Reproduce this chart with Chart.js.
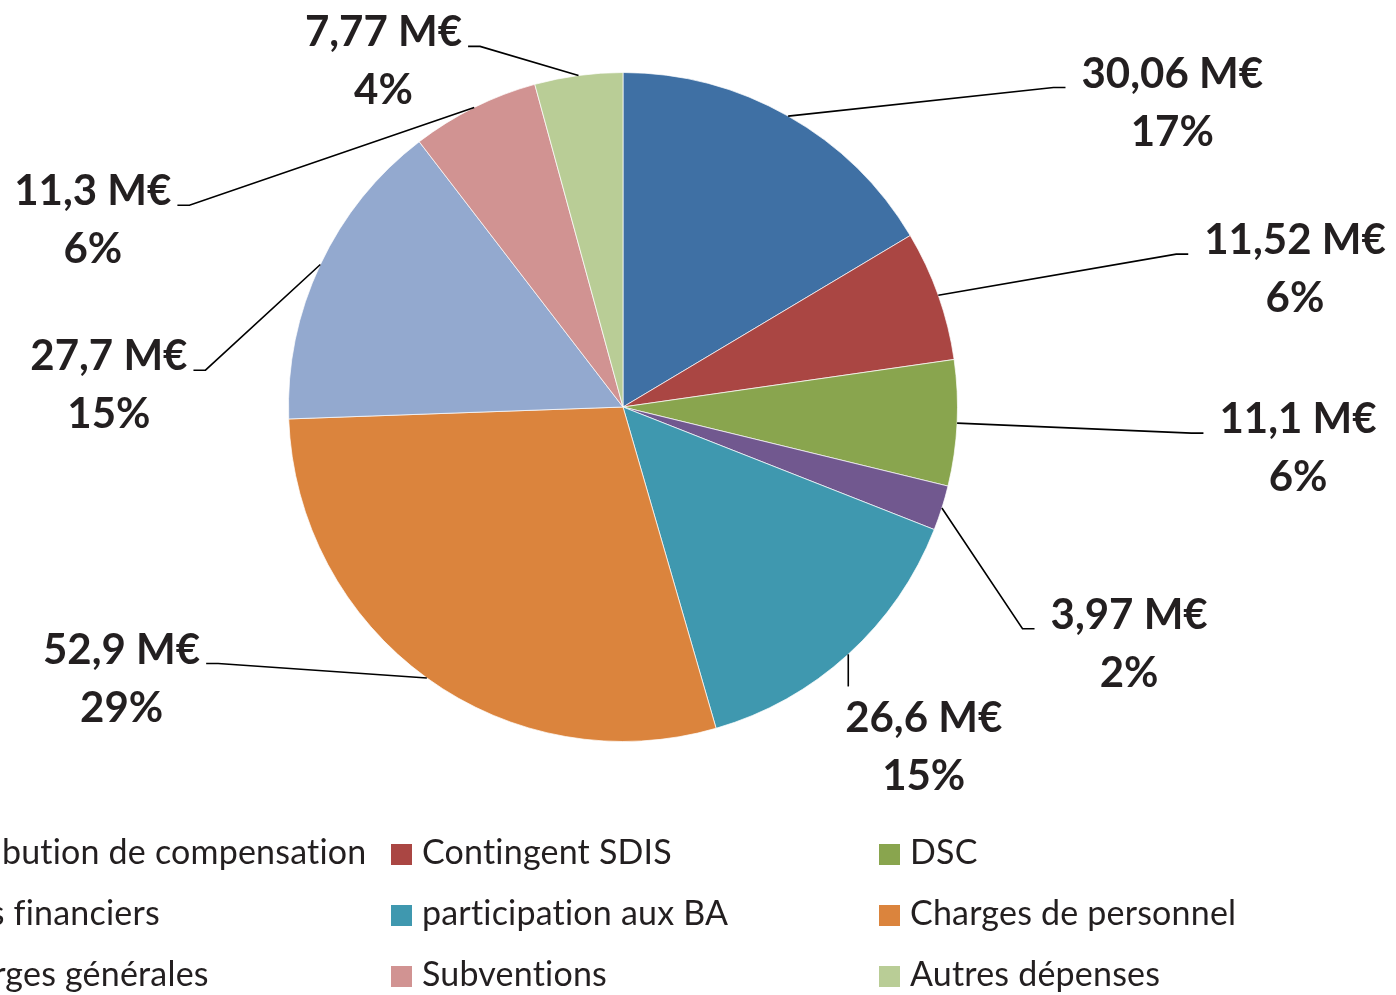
<!DOCTYPE html>
<html><head><meta charset="utf-8">
<script src="https://cdn.jsdelivr.net/npm/chart.js@4.4.1/dist/chart.umd.min.js"></script>
<style>html,body{margin:0;padding:0;background:#fff;overflow:hidden}#wrap{position:relative;width:1396px;height:995px}</style>
</head><body><div id="wrap"><canvas id="c" width="1396" height="995"></canvas></div>
<script>
// ---- data ----
const categories = ['Attribution de compensation','Contingent SDIS','DSC','Frais financiers','participation aux BA','Charges de personnel','Charges générales','Subventions','Autres dépenses'];
const valuesMEUR = [30.06, 11.52, 11.1, 3.97, 26.6, 52.9, 27.7, 11.3, 7.77];
const percentLabels = ['17%','6%','6%','2%','15%','29%','15%','6%','4%'];
// ---- styles / layout ----
const colors = ['#3F70A4','#AA4643','#89A54E','#71588F','#3F98AF','#DB843D','#93A9CF','#D19392','#B9CD96'];
// text centre x, first baseline y (relative to pie centre, in radii), leader attach side
const labelPlacement = [[1.642,-0.955,'right'],[2.009,-0.457,'right'],[2.018,0.078,'right'],[1.513,0.663,'right'],[0.899,0.973,'top'],[-1.499,0.767,'left'],[-1.537,-0.110,'left'],[-1.585,-0.603,'left'],[-0.716,-1.078,'left']];
const LABEL_FONT = 'bold 42px Lato';
const LABEL_LINE = 58, LABEL_CAP = 28;
const LEGEND_FONT = '34px Lato';
const legendCols = [-97, 391, 879];
const legendRows = [864, 925, 986];
const TEXT_COLOR = '#231f20';

const fmt = v => String(v).replace('.', ',') + ' M€';

const leaderLabels = {
  id: 'leaderLabels',
  afterDatasetsDraw(chart) {
    const ctx = chart.ctx;
    const meta = chart.getDatasetMeta(0);
    ctx.save();
    ctx.font = LABEL_FONT;
    meta.data.forEach((arc, i) => {
      const p = arc.getProps(['x','y','startAngle','endAngle','outerRadius'], true);
      const r = p.outerRadius;
      const mid = (p.startAngle + p.endAngle) / 2;
      const ex = p.x + Math.cos(mid) * r, ey = p.y + Math.sin(mid) * r;
      const [fx, fy, side] = labelPlacement[i];
      const tx = p.x + fx * r, ty = p.y + fy * r;
      const l1 = fmt(valuesMEUR[i]), l2 = percentLabels[i];
      const w = ctx.measureText(l1).width;
      ctx.strokeStyle = '#000'; ctx.lineWidth = 1.6;
      ctx.beginPath(); ctx.moveTo(ex, ey);
      if (side === 'right') { const endX = tx - w/2 - 16; ctx.lineTo(endX - 12, ty); ctx.lineTo(endX, ty); }
      else if (side === 'left') { const endX = tx + w/2 + 6; ctx.lineTo(endX + 12, ty); ctx.lineTo(endX, ty); }
      else { ctx.lineTo(ex, ty - LABEL_CAP - 18); }
      ctx.stroke();
      ctx.fillStyle = TEXT_COLOR; ctx.textAlign = 'center'; ctx.textBaseline = 'alphabetic';
      ctx.fillText(l1, tx, ty);
      ctx.fillText(l2, tx, ty + LABEL_LINE);
    });
    ctx.restore();
  }
};

const gridLegend = {
  id: 'gridLegend',
  afterDraw(chart) {
    const ctx = chart.ctx;
    ctx.save();
    ctx.font = LEGEND_FONT;
    if ('letterSpacing' in ctx) ctx.letterSpacing = '0.2px';
    ctx.textAlign = 'left'; ctx.textBaseline = 'alphabetic';
    categories.forEach((name, i) => {
      const x = legendCols[i % 3], y = legendRows[Math.floor(i / 3)];
      ctx.fillStyle = colors[i];
      ctx.fillRect(x, y - 20, 21, 21);
      ctx.fillStyle = TEXT_COLOR;
      ctx.fillText(name, x + 31, y);
    });
    ctx.restore();
  }
};

new Chart(document.getElementById('c'), {
  type: 'pie',
  data: { labels: categories, datasets: [{ data: valuesMEUR, backgroundColor: colors, borderColor: 'rgba(255,255,255,0.7)', borderWidth: 1 }] },
  options: {
    responsive: false, animation: false,
    layout: { padding: { left: 288, right: 438, top: 72, bottom: 253 } },
    plugins: { legend: { display: false }, tooltip: { enabled: false } }
  },
  plugins: [leaderLabels, gridLegend]
});
</script></body></html>
